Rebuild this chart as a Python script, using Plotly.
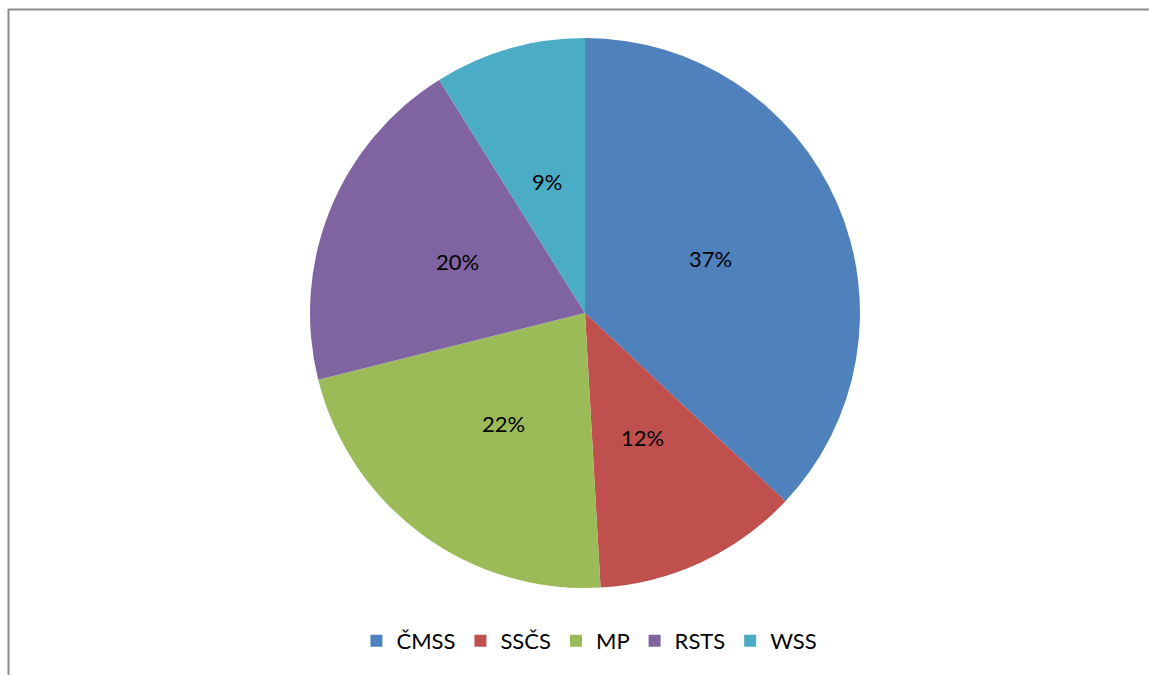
import math
import plotly.graph_objects as go

labels = ["ČMSS", "SSČS", "MP", "RSTS", "WSS"]
values = [37.0, 12.1, 22.0, 20.0, 8.9]
colors = ["#4F81BD", "#C0504D", "#9BBB59", "#8064A2", "#4BACC6"]

W, H = 1149, 675
cx, cy, r = 585, 313, 275
label_r = 137

fig = go.Figure(go.Pie(
    labels=labels, values=values, sort=False, direction="clockwise", rotation=0,
    marker=dict(colors=colors, line=dict(width=0)),
    textinfo="none",
    domain=dict(x=[(cx - r) / W, (cx + r) / W], y=[1 - (cy + r) / H, 1 - (cy - r) / H]),
    hoverinfo="label+percent",
))

total = sum(values)
cum = 0.0
annotations = []
for v in values:
    theta = 2 * math.pi * (cum + v / 2) / total
    cum += v
    px = cx + label_r * math.sin(theta)
    py = cy - label_r * math.cos(theta)
    annotations.append(dict(
        x=px / W, y=1 - py / H, xref="paper", yref="paper",
        text=f"{round(100 * v / total)}%", showarrow=False,
        font=dict(family="Lato", size=22, color="black"),
        xanchor="center", yanchor="middle",
    ))

fig.update_layout(
    width=W, height=H, margin=dict(l=0, r=0, t=0, b=0),
    paper_bgcolor="white", plot_bgcolor="white",
    font=dict(family="Lato", size=22, color="black"),
    legend=dict(orientation="h", x=0.513, xanchor="center", y=1 - 641 / H, yanchor="middle",
                font=dict(family="Lato", size=22), itemwidth=30, tracegroupgap=0),
    annotations=annotations,
    shapes=[
        dict(type="line", xref="paper", yref="paper", x0=8 / W, x1=1, y0=1 - 9.5 / H, y1=1 - 9.5 / H,
             line=dict(color="#8C8C8C", width=2)),
        dict(type="line", xref="paper", yref="paper", x0=8.5 / W, x1=8.5 / W, y0=0, y1=1 - 9 / H,
             line=dict(color="#8C8C8C", width=2)),
    ],
)

fig.write_html("out.html")
